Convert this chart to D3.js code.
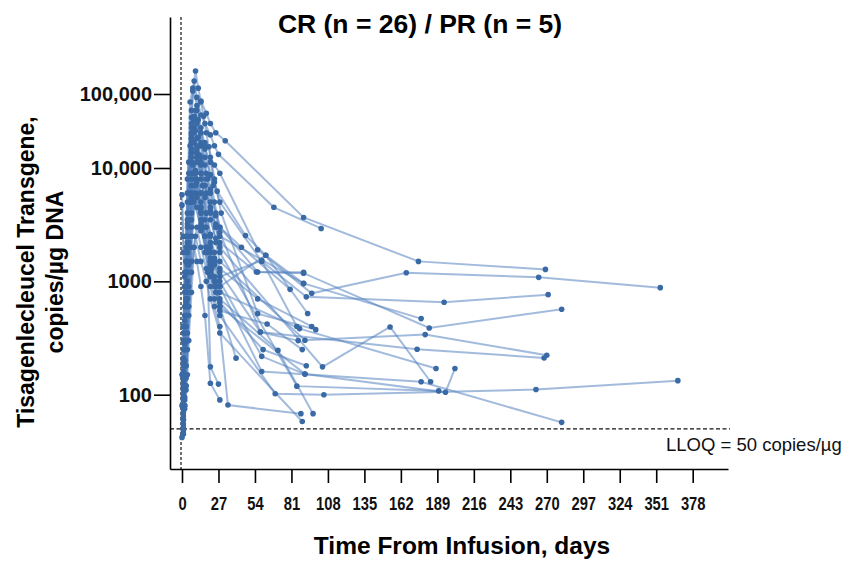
<!DOCTYPE html>
<html>
<head>
<meta charset="utf-8">
<script src="https://cdn.jsdelivr.net/npm/d3@7"></script>
<style>
  body { margin: 0; background: #fff; }
  .tick text { fill: #111; }
</style>
</head>
<body>
<div class="canvas"></div>
<script>
// DATA - one row per patient (31 patients), days and copies/ug DNA
const patientDays = [
  [1,2,3,4,6,7,9,11,14,17,21,24,27,68,103],
  [1,2,3,4,5,7,8,10,12,14,18,21,25,32,90,175,269],
  [1,2,3,5,7,9,11,14,16,18,21,24,28,56,96,166,264,354],
  [0,1,2,4,5,7,10,12,14,17,21,24,28,59,92,194,271],
  [1,2,3,4,6,8,11,14,17,19,21,25,28,56,90,183,281],
  [1,2,3,4,7,9,13,17,21,25,28,90,177],
  [0,1,2,5,7,9,11,14,18,21,25,28,91,180,270],
  [1,2,3,4,7,10,14,17,21,24,28,58,174,268],
  [1,2,4,5,7,9,11,15,20,24,28,87,188],
  [1,2,3,4,6,8,11,14,18,22,25,28,91,195,202],
  [1,2,3,4,7,10,14,17,21,24,28,69,105,262,367],
  [1,2,3,4,7,11,14,17,21,25,28,85,190],
  [1,2,3,4,7,9,14,18,21,24,28,59,177,281],
  [1,2,3,4,7,11,14,18,21,24,28,34,88],
  [1,2,3,4,7,11,14,18,21,25,28,71,97],
  [0,1,2,3,5,7,10,14,18,21,28,89],
  [1,2,4,7,9,11,14,18,21,25,28,104,154,184],
  [1,2,3,4,7,9,14,17,21,23,26,47,62,90],
  [1,2,4,7,10,12,14,17,20,24,29,56,99],
  [1,2,3,4,7,11,14,17,21,25,28,55,90],
  [1,2,4,7,11,14,18,21,24,28,59,91],
  [1,2,3,4,7,11,14,17,21,28,62,93],
  [1,2,4,7,10,14,18,21,24,28,59,85],
  [1,2,3,4,7,9,11,14,18,21,25,28,58,86],
  [1,2,3,4,7,10,14,17,21,24,28,60,92],
  [1,2,3,4,8,11,14,18,21,25,28,63,89],
  [0,1,2,4,7,11,14,18,21,24,28,56,96],
  [0,1,3,5,7,10,14,17,19,21,27],
  [1,2,3,4,5,7,9,11,14,17,21,28],
  [1,2,3,4,6,8,11,14,17,21,24,28,44,80],
  [1,2,3,5,7,10,14,17,21,24,28,40]
];
const patientCopies = [
  [210,900,1500,3200,20000,48000,150000,90000,52000,40000,28000,20000,15300,4500,2930],
  [95,300,700,1800,9000,60000,110000,205000,120000,80000,55000,40000,30000,23300,3660,1500,1275],
  [60,250,900,6000,25000,45000,60000,78000,50000,30000,14000,11000,9000,1900,784,1190,1085,880],
  [150,400,1100,5000,12000,35000,60000,45000,30000,18000,12000,7500,5000,1500,730,653,763],
  [45,150,300,600,3500,9000,40000,22000,11000,8000,6500,4000,3000,1210,1180,388,567],
  [300,900,2500,8000,30000,22000,15000,7000,4200,3200,2500,960,469],
  [80,150,400,1400,3500,9000,18000,12000,6000,4000,2200,1500,302,339,223],
  [120,600,1200,2500,16000,9000,6000,3500,2200,1600,1200,357,252,211],
  [60,200,700,2200,5000,9000,12000,7000,2000,1100,800,383,170],
  [200,400,650,1500,5000,11000,7500,4000,2000,1300,900,600,152,105,170],
  [50,110,180,300,2000,6000,3500,1800,1100,700,500,102,100,111,133],
  [400,900,1500,4000,22000,14000,9000,5500,3500,2400,1800,119,108],
  [70,300,600,1200,8000,5000,3000,2000,1500,1000,900,160,130,57],
  [55,90,140,250,1500,3000,2000,1300,900,600,400,81,68],
  [100,200,400,900,6000,4500,2800,2000,1400,1000,700,246,68],
  [42,60,95,180,500,1200,2500,1500,1000,700,350,58],
  [250,800,3000,40000,35000,25000,14000,8000,5000,3000,2000,176,396,130],
  [130,350,700,2000,25000,50000,30000,14000,8700,7000,6250,2540,1700,955],
  [90,300,1000,14000,32000,26000,20000,22000,19400,8000,4000,519,375],
  [160,500,1200,3500,28000,16000,11000,7000,4500,3000,2200,1210,1200],
  [75,250,800,7000,20000,9000,4000,2500,1500,1000,218,152],
  [110,280,500,1400,12000,8000,5000,3000,1800,900,1700,520],
  [65,180,500,4000,9500,6000,3000,2000,1400,1100,1530,400],
  [180,450,900,2200,18000,30000,45000,20000,9000,6000,3800,2700,357,300],
  [48,80,120,350,2500,7000,4200,2500,1600,1000,650,250,180],
  [140,300,600,1800,9000,5500,3200,1800,1200,800,550,420,250],
  [5800,2500,1200,600,5500,16000,8000,4000,2600,1800,1300,700,400],
  [4700,1800,400,900,3000,8000,4500,2500,1200,176,124],
  [45,80,110,150,300,800,2000,1500,900,500,126,90],
  [350,900,2000,6000,78000,120000,70000,35000,20000,8700,5000,3000,2000,850],
  [52,75,120,600,2500,9000,4000,2500,1500,900,600,210]
];
const xTicks = [0,27,54,81,108,135,162,189,216,243,270,297,324,351,378];
const yTicks = [100,1000,10000,100000];
const yTickLabels = ['100','1000','10,000','100,000'];
const lloq = 50;

//VIZ DIMENSIONS
const w = 847, h = 562;
const plotLeft = 170, plotRight = 728, plotTop = 17, plotBottom = 469;

const svg = d3.select('.canvas').append('svg')
  .attr('width', w)
  .attr('height', h)
  .style('font-family', 'Liberation Sans, Arial, sans-serif');

//SCALES
const x = d3.scaleLinear().domain([0, 378]).range([182, 692.7]);
const xAxisScale = d3.scaleLinear()
  .domain([x.invert(plotLeft), x.invert(plotRight)])
  .range([plotLeft, plotRight]);

// upper decade is drawn tighter than the lower ones in the source figure
const y = d3.scaleLog()
  .domain([22.1, 10000, 100000, 1.1e6])
  .range([plotBottom, 168, 94, plotTop]);

//REFERENCE LINES
svg.append('line')
  .attr('x1', x(0) - 1).attr('x2', x(0) - 1)
  .attr('y1', plotTop).attr('y2', plotBottom)
  .attr('stroke', '#333')
  .attr('stroke-width', 1.4)
  .attr('stroke-dasharray', '3,2');

svg.append('line')
  .attr('x1', plotLeft).attr('x2', 730)
  .attr('y1', y(lloq)).attr('y2', y(lloq))
  .attr('stroke', '#111')
  .attr('stroke-width', 1.2)
  .attr('stroke-dasharray', '4,2.5');

svg.append('text')
  .attr('x', 666)
  .attr('y', 451)
  .attr('font-size', 18.5)
  .attr('fill', '#111')
  .text('LLOQ = 50 copies/\u00b5g');

//PATIENT LINES AND POINTS
const series = patientDays.map((ds, i) => ds.map((d, j) => [d, patientCopies[i][j]]));

const line = d3.line()
  .x(d => x(d[0]))
  .y(d => y(d[1]));

svg.append('g')
  .selectAll('path')
  .data(series)
  .join('path')
    .attr('d', line)
    .attr('fill', 'none')
    .attr('stroke', '#5584bf')
    .attr('stroke-opacity', 0.55)
    .attr('stroke-width', 2);

svg.append('g')
  .selectAll('circle')
  .data(series.flat())
  .join('circle')
    .attr('cx', d => x(d[0]))
    .attr('cy', d => y(d[1]))
    .attr('r', 2.8)
    .attr('fill', '#3a6aa5');

//AXES
const yAxis = svg.append('g')
  .attr('transform', 'translate(' + plotLeft + ',0)')
  .call(d3.axisLeft(y)
    .tickValues(yTicks)
    .tickFormat((d, i) => yTickLabels[i])
    .tickSize(16)
    .tickSizeOuter(0)
    .tickPadding(2));
yAxis.select('.domain').attr('stroke-width', 1.6);
yAxis.selectAll('.tick line').attr('stroke-width', 1.6);
yAxis.selectAll('.tick text')
  .attr('font-size', 20)
  .attr('font-weight', 'bold')
  .attr('font-family', 'Liberation Sans, Arial, sans-serif');

const xAxis = svg.append('g')
  .attr('transform', 'translate(0,' + plotBottom + ')')
  .call(d3.axisBottom(xAxisScale)
    .tickValues(xTicks)
    .tickSize(14)
    .tickSizeOuter(0)
    .tickPadding(14));
xAxis.select('.domain').attr('stroke-width', 1.6);
xAxis.selectAll('.tick line').attr('stroke-width', 1.6);
// narrow bold labels: squeeze horizontally around each tick
xAxis.selectAll('.tick text')
  .attr('font-size', 18)
  .attr('font-weight', 'bold')
  .attr('font-family', 'Liberation Sans, Arial, sans-serif')
  .attr('transform', 'scale(0.82,1)');

//TITLES
svg.append('text')
  .attr('x', 420)
  .attr('y', 33)
  .attr('text-anchor', 'middle')
  .attr('font-size', 26.5)
  .attr('font-weight', 'bold')
  .text('CR (n = 26) / PR (n = 5)');

svg.append('text')
  .attr('x', 462)
  .attr('y', 554)
  .attr('text-anchor', 'middle')
  .attr('font-size', 24.5)
  .attr('font-weight', 'bold')
  .text('Time From Infusion, days');

const yTitle = svg.append('text')
  .attr('text-anchor', 'middle')
  .attr('font-size', 23)
  .attr('font-weight', 'bold')
  .attr('transform', 'translate(34,272) rotate(-90)');
yTitle.append('tspan').attr('x', 0).attr('y', 0).text('Tisagenlecleucel Transgene,');
yTitle.append('tspan').attr('x', 0).attr('y', 29).text('copies/\u00b5g DNA');
</script>
</body>
</html>
